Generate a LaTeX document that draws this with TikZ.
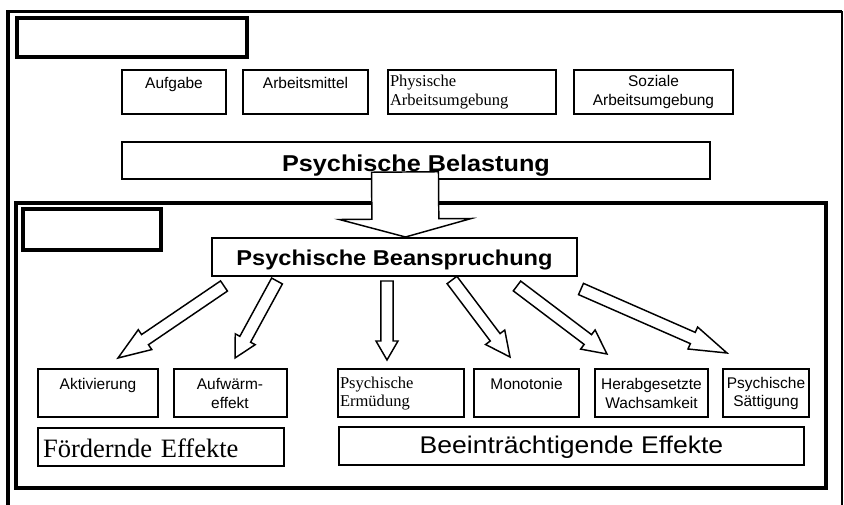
\documentclass[tikz,border=0pt]{standalone}
\usepackage{fontspec}
\setmainfont{Liberation Serif}
\setsansfont{Liberation Sans}
\newfontfamily\widesans{Liberation Sans}[FakeStretch=1.1]
\usetikzlibrary{calc}
\newcommand{\smallsans}{\fontsize{11.6}{13.9}\selectfont\sffamily}
\newcommand{\smallserif}{\fontsize{12.4}{13.7}\selectfont\rmfamily}
% hollow block arrow: tail, tip, shaft half-width, head half-width, head length
\newcommand{\blockarrow}[5]{%
  \coordinate (ba head) at ($(#2)!#5!(#1)$);
  \draw[block arrow] ($(#1)!#3!90:(#2)$) -- ($(ba head)!#3!90:(#2)$) -- ($(ba head)!#4!90:(#2)$) -- (#2)
    -- ($(ba head)!#4!-90:(#2)$) -- ($(ba head)!#3!-90:(#2)$) -- ($(#1)!#3!-90:(#2)$) -- cycle;
}
\tikzset{
  frame line/.style={line width=2.4pt},
  tag box/.style={draw,line width=3pt,inner sep=0pt},
  factor box/.style={draw,line width=1.5pt,inner sep=0pt,minimum height=33pt,align=center,font=\smallsans},
  effect box/.style={factor box,minimum height=36pt},
  serif box/.style={font=\smallserif,align=left,inner xsep=1.5pt},
  load box/.style={draw,line width=1.5pt,inner sep=0pt,minimum height=28pt,text depth=0pt},
  block arrow/.style={draw,line width=1.1pt,fill=white,line join=miter},
}

\begin{document}
\begin{tikzpicture}[x=0.75pt,y=-0.75pt]
  \useasboundingbox (0,0) rectangle (844,505);
  % outer frame
  \draw[frame line] (8,505) -- (8,11.5) -- (842,11.5);
  \draw[line width=1.2pt] (842,11.5) -- (842,505);
  \node[tag box,minimum width=172.5pt,minimum height=29.5pt] (tag top) at (132,37.5) {};
  % factors
  \node[factor box,minimum width=78pt] (aufgabe) at (174,92) {Aufgabe\\\mbox{}};
  \node[factor box,minimum width=93.75pt] (mittel) at (305.5,92) {Arbeitsmittel\\\mbox{}};
  \node[factor box,serif box,text width=123pt] (physisch) at (472,92) {Physische\\Arbeitsumgebung};
  \node[factor box,minimum width=119.25pt] (sozial) at (653.5,92) {Soziale\\Arbeitsumgebung};
  \node[load box,minimum width=441pt,font=\widesans\bfseries\fontsize{17.2}{20}\selectfont,text height=17.25pt]
    (belastung) at (416,160.5) {Psychische Belastung};
  % inner frame
  \draw[line width=3pt] (15.5,203) rectangle (826,488);
  \node[tag box,minimum width=103.5pt,minimum height=30.75pt] (tag inner) at (92,229.5) {};
  \node[load box,minimum width=273.75pt,minimum height=28.5pt,font=\widesans\bfseries\fontsize{16.1}{19}\selectfont,text height=13.5pt]
    (beanspruchung) at (394.5,257) {Psychische Beanspruchung};
  % effects
  \node[effect box,minimum width=90pt] (aktivierung) at (98,393.5) {Aktivierung\\\mbox{}};
  \node[effect box,minimum width=84.75pt] (aufwaerm) at (230,393.5) {Aufwärm-\\effekt};
  \node[effect box,serif box,text width=91.5pt] (ermuedung) at (401,393.5) {Psychische\\Ermüdung};
  \node[effect box,minimum width=78.75pt] (monotonie) at (526.5,393.5) {Monotonie\\\mbox{}};
  \node[effect box,minimum width=85pt] (wachsam) at (651.5,393.5) {Herabgesetzte\\Wachsamkeit};
  \node[effect box,minimum width=64.5pt] (saettigung) at (766,393.5) {Psychische\\Sättigung};
  \node[load box,minimum width=184.5pt,minimum height=28.5pt,align=left,text width=177pt,inner xsep=3.75pt,
    font=\fontsize{19.9}{22}\selectfont\rmfamily,text height=16.5pt] (foerdernd) at (161,447) {Fördernde Effekte};
  \node[load box,minimum width=348.75pt,minimum height=28.5pt,font=\widesans\fontsize{18.1}{21}\selectfont,text height=10.5pt]
    (beeintr) at (571.5,446.5) {Beeinträchtigende Effekte};
  % arrows
  \coordinate (bt) at (405,172);
  \coordinate (bp) at (405.5,237);
  \blockarrow{bt}{bp}{25.1pt}{49.5pt}{13.5pt}
  \foreach \i/\tx/\ty/\px/\py/\hw/\hl in {1/224/286/118/358/9/24.5,2/277/281/235/358/8.5/16,3/387/281/387/360/8.25/14.25,
      4/452/280/510/357/9/18.5,5/517/286/607/354/9/18,6/581/289/727/353/9/28}{
    \coordinate (t\i) at (\tx,\ty);
    \coordinate (p\i) at (\px,\py);
    \blockarrow{t\i}{p\i}{4.6pt}{\hw pt}{\hl pt}
  }
\end{tikzpicture}
\end{document}
